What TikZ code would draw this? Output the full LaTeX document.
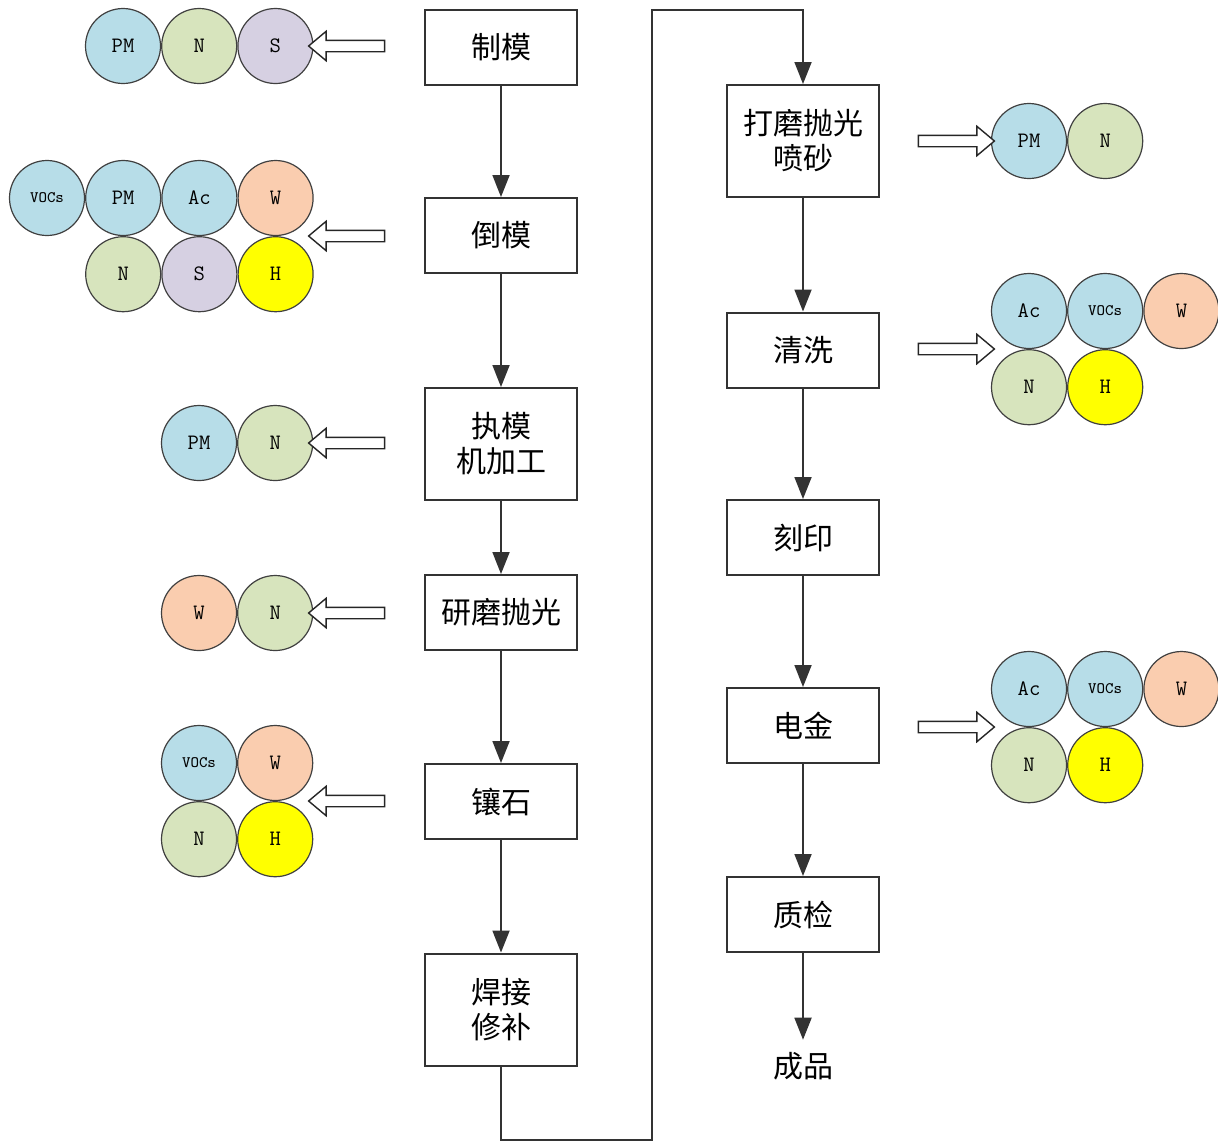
\documentclass[tikz,border=0pt]{standalone}
\usepackage{fontspec}
\newfontfamily\cjk{Noto Sans CJK SC}
\usetikzlibrary{shapes, arrows.meta, positioning}

\definecolor{cblue}{RGB}{183,221,232}
\definecolor{cgreen}{RGB}{215,228,189}
\definecolor{cpurple}{RGB}{214,208,226}
\definecolor{corange}{RGB}{250,205,175}
\definecolor{cyellow}{RGB}{255,255,0}

\begin{document}
\begin{tikzpicture}[
		x=0.5pt, y=-0.5pt,
		proc/.style={rectangle, draw=black!80, line width=1pt, minimum width=76pt, minimum height=37.5pt, align=center, inner sep=0pt, font=\cjk\fontsize{15}{17.5}\selectfont},
		tall/.style={minimum height=56pt},
		flow/.style={draw=black!80, line width=0.9pt, -{Triangle[width=8.5pt, length=11pt]}},
		ball/.style={circle, draw=black!75, line width=0.6pt, minimum size=37.5pt, inner sep=0pt, fill=#1, font=\ttfamily\fontsize{11}{12}\selectfont},
		tiny/.style={font=\ttfamily\fontsize{8}{9}\selectfont},
		hollow/.style={single arrow, draw=black!85, line width=0.7pt, fill=white, minimum height=38pt, single arrow head extend=4.5pt, single arrow tip angle=80, inner sep=2.5pt, shape border rotate=#1}
		]
		\useasboundingbox[fill=white] (0,0) rectangle (1218,1142);
		
		% Left column
		\node[proc] (mkmold) at (501,47.5) {制模};
		\node[proc] (castmold) at (501,235.5) {倒模};
		\node[proc, tall] (trimmold) at (501,444) {执模\\机加工};
		\node[proc] (grind) at (501,612.5) {研磨抛光};
		\node[proc] (setstone) at (501,801.5) {镶石};
		\node[proc, tall] (weld) at (501,1009.5) {焊接\\修补};
		
		% Right column
		\node[proc, tall] (polish) at (803,141) {打磨抛光\\喷砂};
		\node[proc] (clean) at (803,350) {清洗};
		\node[proc] (engrave) at (803,537.5) {刻印};
		\node[proc] (plate) at (803,725.5) {电金};
		\node[proc] (inspect) at (803,914.5) {质检};
		\node[font=\cjk\fontsize{15}{17.5}\selectfont, inner sep=6pt] (product) at (803,1066) {成品};
		
		% Flow
		\draw[flow] (mkmold) -- (castmold);
		\draw[flow] (castmold) -- (trimmold);
		\draw[flow] (trimmold) -- (grind);
		\draw[flow] (grind) -- (setstone);
		\draw[flow] (setstone) -- (weld);
		\coordinate (loopA) at (652,1140);
		\coordinate (loopB) at (652,10);
		\draw[flow] (weld.south) |- (loopA) -- (loopB) -| (polish.north);
		\draw[flow] (polish) -- (clean);
		\draw[flow] (clean) -- (engrave);
		\draw[flow] (engrave) -- (plate);
		\draw[flow] (plate) -- (inspect);
		\draw[flow] (inspect) -- (product);
		
		% Pollutants of 制模
		\node[ball=cblue] (pm1) at (123,46) {PM};
		\node[ball=cgreen, right=0pt of pm1] (n1) {N};
		\node[ball=cpurple, right=0pt of n1] (s1) {S};
		\node[hollow=180] (out1) at (350,46) {};
		
		% Pollutants of 倒模
		\node[ball=cblue, tiny] (vocs2) at (47,198) {VOCs};
		\node[ball=cblue, right=0pt of vocs2] (pm2) {PM};
		\node[ball=cblue, right=0pt of pm2] (ac2) {Ac};
		\node[ball=corange, right=0pt of ac2] (w2) {W};
		\node[ball=cgreen, below=0pt of pm2] (n2) {N};
		\node[ball=cpurple, right=0pt of n2] (s2) {S};
		\node[ball=cyellow, right=0pt of s2] (h2) {H};
		\node[hollow=180] (out2) at (350,236) {};
		
		% Pollutants of 执模机加工
		\node[ball=cblue] (pm3) at (199,443) {PM};
		\node[ball=cgreen, right=0pt of pm3] (n3) {N};
		\node[hollow=180] (out3) at (350,443) {};
		
		% Pollutants of 研磨抛光
		\node[ball=corange] (w4) at (199,613) {W};
		\node[ball=cgreen, right=0pt of w4] (n4) {N};
		\node[hollow=180] (out4) at (350,613) {};
		
		% Pollutants of 镶石
		\node[ball=cblue, tiny] (vocs5) at (199,763) {VOCs};
		\node[ball=corange, right=0pt of vocs5] (w5) {W};
		\node[ball=cgreen, below=0pt of vocs5] (n5) {N};
		\node[ball=cyellow, right=0pt of n5] (h5) {H};
		\node[hollow=180] (out5) at (350,801) {};
		
		% Pollutants of 打磨抛光喷砂
		\node[ball=cblue] (pm6) at (1029,141) {PM};
		\node[ball=cgreen, right=0pt of pm6] (n6) {N};
		\node[hollow=0] (out6) at (953,141) {};
		
		% Pollutants of 清洗
		\node[ball=cblue] (ac7) at (1029,311) {Ac};
		\node[ball=cblue, tiny, right=0pt of ac7] (vocs7) {VOCs};
		\node[ball=corange, right=0pt of vocs7] (w7) {W};
		\node[ball=cgreen, below=0pt of ac7] (n7) {N};
		\node[ball=cyellow, right=0pt of n7] (h7) {H};
		\node[hollow=0] (out7) at (953,349) {};
		
		% Pollutants of 电金
		\node[ball=cblue] (ac8) at (1029,689) {Ac};
		\node[ball=cblue, tiny, right=0pt of ac8] (vocs8) {VOCs};
		\node[ball=corange, right=0pt of vocs8] (w8) {W};
		\node[ball=cgreen, below=0pt of ac8] (n8) {N};
		\node[ball=cyellow, right=0pt of n8] (h8) {H};
		\node[hollow=0] (out8) at (953,727) {};
	\end{tikzpicture}
\end{document}
